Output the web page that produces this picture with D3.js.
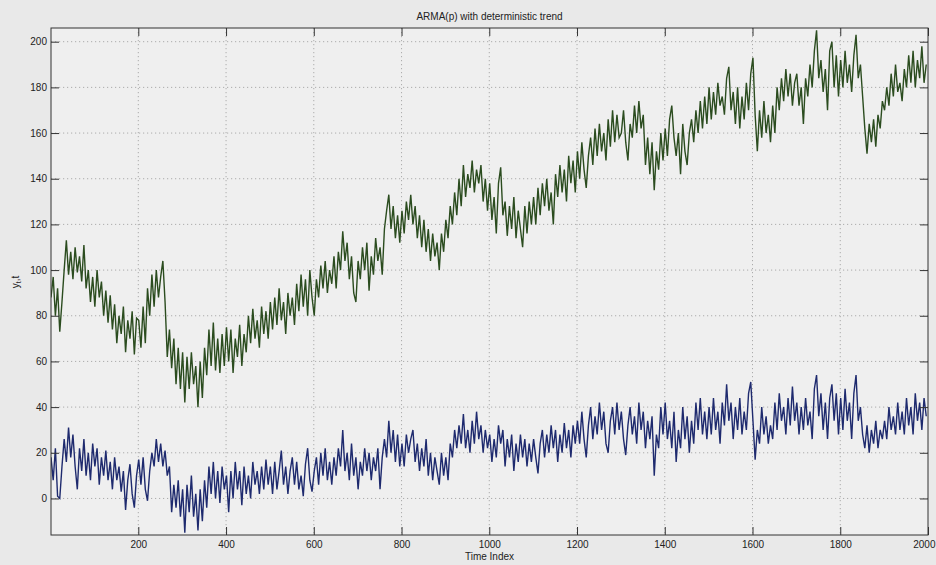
<!DOCTYPE html>
<html>
<head>
<meta charset="utf-8">
<script src="https://cdn.jsdelivr.net/npm/d3@7/dist/d3.min.js"></script>
<style>
    html, body { margin: 0; padding: 0; background: #e9e9e9; }
    svg { display: block; font-family: "Liberation Sans", Arial, sans-serif; }
    .tick text { font-size: 10px; fill: #222; }
</style>
</head>
<body>
<div id="chart"></div>
<script>
// time index: first sample and spacing of the values
const tStart = 1;
const tStep = 5;

// upper series (green), one value every 5 time steps
const greenValues = [
    88,97,80,92,73,86,100,113,98,108,96,110,99,106,95,111,92,100,86,97,
    84,100,88,95,80,91,77,89,74,85,68,80,72,84,64,78,70,82,63,79,
    78,66,84,68,92,80,98,84,100,88,97,104,86,62,74,57,70,50,66,48,
    64,42,62,48,64,50,58,40,60,44,66,54,74,58,77,56,70,55,72,58,
    75,60,74,55,70,62,76,58,72,64,80,68,83,70,78,66,84,72,82,70,
    86,74,88,76,92,78,86,72,90,80,88,76,94,82,98,84,96,80,100,88,
    80,96,88,102,92,104,90,100,94,106,92,108,100,117,104,112,96,106,90,86,
    104,96,110,100,112,91,106,98,114,104,110,98,118,126,133,118,128,114,124,112,
    126,116,130,122,133,120,128,114,124,110,122,108,118,104,116,106,112,100,116,108,
    122,114,128,120,134,124,140,128,146,132,142,136,148,134,144,138,146,130,140,126,
    138,122,132,116,138,145,124,130,115,128,118,132,114,126,118,110,128,116,130,120,
    132,120,136,124,138,128,140,126,134,120,142,132,146,134,144,130,150,138,148,134,
    152,140,156,144,136,150,158,146,162,150,164,152,160,148,166,154,170,156,168,158,
    160,170,156,148,164,158,172,160,174,162,168,146,158,142,156,135,152,144,160,148,
    162,150,166,172,158,150,160,142,164,152,146,160,166,156,170,160,174,162,176,164,
    180,166,178,168,182,172,176,168,184,189,170,178,164,180,162,176,166,182,170,186,
    193,168,152,170,158,174,160,168,156,172,160,180,170,184,174,188,176,186,172,182,
    186,172,180,164,184,176,190,180,196,205,184,192,178,188,170,196,200,180,194,176,
    192,180,196,182,190,178,194,203,184,190,176,162,151,164,156,166,154,168,162,174,
    170,180,172,186,176,190,178,182,174,188,180,194,182,196,180,192,184,198,182,190
];

// lower series (blue), same time index
const blueValues = [
    18,8,22,1,0,14,26,16,31,18,28,14,4,22,12,26,10,20,8,24,
    14,22,6,18,10,21,8,16,4,18,8,14,3,12,-5,8,15,2,-4,10,
    17,6,18,4,-1,12,20,14,26,16,24,14,21,10,14,-6,6,-4,8,-8,
    4,-15,6,-6,10,-8,2,-14,4,-10,8,-4,14,2,16,0,12,-2,14,4,
    10,-6,12,0,16,4,12,-3,14,2,10,0,16,6,12,2,14,4,17,6,
    14,2,16,4,12,21,6,14,2,12,18,6,16,4,10,1,15,22,8,3,
    12,18,6,20,10,22,8,16,6,18,10,22,14,30,12,20,8,24,10,18,
    4,16,10,22,12,20,8,18,12,22,4,18,26,18,34,20,30,16,28,14,
    24,14,28,20,26,30,16,24,12,22,14,26,10,20,8,18,12,6,20,10,
    18,8,24,18,30,22,32,24,37,22,30,20,34,24,38,26,32,20,30,22,
    28,16,26,18,32,24,30,14,26,18,28,12,24,16,28,18,26,14,24,16,
    26,18,11,24,30,18,28,20,32,22,30,16,28,20,33,22,30,18,32,24,
    34,24,38,26,18,32,40,26,36,28,42,30,38,24,20,34,40,28,42,30,
    38,26,19,32,40,28,36,24,42,30,38,22,34,26,36,10,28,22,40,28,
    42,26,34,22,38,16,30,22,40,26,36,20,34,24,42,30,44,28,38,26,
    40,28,44,30,38,24,42,32,50,34,42,26,40,30,44,28,38,30,46,51,
    34,17,30,24,40,28,36,24,32,26,42,30,46,34,40,28,44,32,49,34,
    42,28,40,30,44,32,38,26,48,54,36,46,30,42,26,44,50,34,46,28,
    44,30,48,34,42,26,46,54,34,40,28,22,32,20,30,24,34,22,30,26,
    34,26,40,30,36,28,42,30,38,28,44,32,40,28,46,34,42,30,44,36
];

const xTicks = [200, 400, 600, 800, 1000, 1200, 1400, 1600, 1800, 2000];
const yTicks = [0, 20, 40, 60, 80, 100, 120, 140, 160, 180, 200];
const xDomain = [1, 2000];
const yDomain = [-16, 206];

const titleText = "ARMA(p) with deterministic trend";
const xLabelText = "Time Index";

const margin = {top: 28, right: 8, bottom: 30, left: 51};
const width = 936 - margin.left - margin.right;
const height = 565 - margin.top - margin.bottom;

const xScale = d3.scaleLinear().domain(xDomain).range([0, width]);
const yScale = d3.scaleLinear().domain(yDomain).range([height, 0]);

const svgRoot = d3.select("#chart").append("svg")
    .attr("width", 936)
    .attr("height", 565);

const svg = svgRoot.append("g")
    .attr("transform", "translate(" + margin.left + "," + margin.top + ")");

svg.append("rect")
    .attr("width", width)
    .attr("height", height)
    .attr("fill", "#efefef");

svg.append("clipPath").attr("id", "plot-clip")
    .append("rect").attr("width", width).attr("height", height);

// dotted grid
svg.append("g").selectAll("line").data(xTicks.filter(d => d < xDomain[1])).join("line")
    .attr("x1", d => xScale(d)).attr("x2", d => xScale(d))
    .attr("y1", 0).attr("y2", height)
    .attr("stroke", "#9a9a9a").attr("stroke-width", 0.8)
    .attr("stroke-dasharray", "1.2,2.8");

svg.append("g").selectAll("line").data(yTicks).join("line")
    .attr("x1", 0).attr("x2", width)
    .attr("y1", d => yScale(d)).attr("y2", d => yScale(d))
    .attr("stroke", "#9a9a9a").attr("stroke-width", 0.8)
    .attr("stroke-dasharray", "1.2,2.8");

// series
const line = d3.line()
    .x((d, i) => xScale(tStart + i * tStep))
    .y(d => yScale(d));

const plot = svg.append("g").attr("clip-path", "url(#plot-clip)");

plot.append("path")
    .datum(greenValues)
    .attr("fill", "none")
    .attr("stroke", "#2b4c1f")
    .attr("stroke-width", 1.4)
    .attr("stroke-linejoin", "miter")
    .attr("d", line);

plot.append("path")
    .datum(blueValues)
    .attr("fill", "none")
    .attr("stroke", "#1e2a6e")
    .attr("stroke-width", 1.4)
    .attr("stroke-linejoin", "miter")
    .attr("d", line);

// axes, ticks pointing inward like matlab
const fmt = d3.format("d");
const xAxis = d3.axisBottom(xScale).tickValues(xTicks).tickFormat(fmt).tickSize(-8).tickPadding(6).tickSizeOuter(0);
const yAxis = d3.axisLeft(yScale).tickValues(yTicks).tickFormat(fmt).tickSize(-8).tickPadding(4).tickSizeOuter(0);
const xAxisTop = d3.axisTop(xScale).tickValues(xTicks).tickSize(-8).tickFormat("").tickSizeOuter(0);
const yAxisRight = d3.axisRight(yScale).tickValues(yTicks).tickSize(-8).tickFormat("").tickSizeOuter(0);

svg.append("g").attr("class", "x-axis")
    .attr("transform", "translate(0," + height + ")")
    .call(xAxis);
svg.append("g").attr("class", "y-axis").call(yAxis);
svg.append("g").call(xAxisTop);
svg.append("g").attr("transform", "translate(" + width + ",0)").call(yAxisRight);

svg.selectAll(".domain").remove();
svg.selectAll(".tick line").attr("stroke", "#333").attr("stroke-width", 1);
svg.selectAll(".tick text").attr("font-family", "Liberation Sans, Arial, sans-serif");

// last x label sits at the window edge: keep it inside
svg.selectAll(".x-axis .tick text")
    .filter(d => d === xDomain[1])
    .attr("text-anchor", "end")
    .attr("x", 7);

// box
svg.append("rect")
    .attr("width", width)
    .attr("height", height)
    .attr("fill", "none")
    .attr("stroke", "#333")
    .attr("stroke-width", 1);

// labels
svgRoot.append("text")
    .attr("x", margin.left + width / 2)
    .attr("y", 20)
    .attr("text-anchor", "middle")
    .attr("font-size", 10)
    .attr("fill", "#222")
    .text(titleText);

svgRoot.append("text")
    .attr("x", margin.left + width / 2)
    .attr("y", 560)
    .attr("text-anchor", "middle")
    .attr("font-size", 10)
    .attr("fill", "#222")
    .text(xLabelText);

const yLabel = svgRoot.append("text")
    .attr("transform", "translate(19,282) rotate(-90)")
    .attr("text-anchor", "middle")
    .attr("font-size", 10)
    .attr("fill", "#222");
yLabel.append("tspan").text("y");
yLabel.append("tspan").attr("font-size", 7).attr("dy", 2).text("t");
yLabel.append("tspan").attr("dy", -2).text(",t");
</script>
</body>
</html>
